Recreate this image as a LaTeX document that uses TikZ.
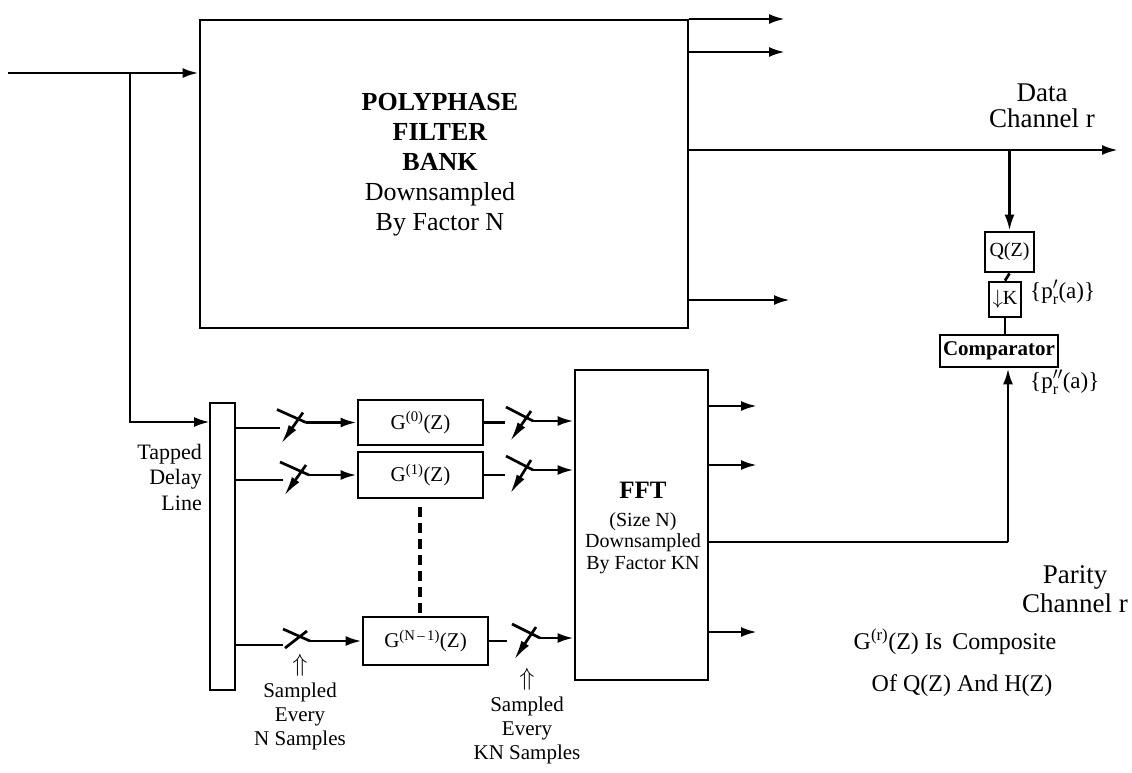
\documentclass[tikz,border=0pt]{standalone}
\usepackage{fontspec}
\setmainfont{Liberation Serif}
\usetikzlibrary{arrows.meta,calc}
\newcommand\fs[2]{\fontsize{#1}{#2}\selectfont}
\newcommand\subr{\mbox{\fontsize{16}{16}\selectfont r}}
\tikzset{
  ln/.style={line width=2.7pt},
  arr/.style={ln,-{Latex[length=16pt,width=10pt]}},
  wedge/.style={ln,-{Latex[length=20pt,width=9pt]}},
  blk/.style={draw,line width=2.8pt,inner sep=0pt},
  txt/.style={inner sep=0pt,align=center},
}
\begin{document}
\begin{tikzpicture}[x=1pt,y=-1pt]
\useasboundingbox (0,0) rectangle (1132,772);
% blocks
\node[blk,minimum width=488pt,minimum height=308pt] (poly) at (444,174) {};
\node[blk,minimum width=25pt,minimum height=287pt] (tdl) at (222.5,546.5) {};
\node[blk,minimum width=125pt,minimum height=45pt,font=\fs{21}{23}] (g0) at (420.5,422.5) {G\textsuperscript{(0)}(Z)};
\node[blk,minimum width=125pt,minimum height=46pt,font=\fs{21}{23}] (g1) at (420.5,475) {G\textsuperscript{(1)}(Z)};
\node[blk,minimum width=125pt,minimum height=48pt,font=\fs{21}{23}] (gn) at (425.5,641) {G\textsuperscript{(N\,–\,1)}(Z)};
\node[blk,minimum width=133pt,minimum height=310pt] (fft) at (641.5,525) {};
\node[blk,minimum width=49pt,minimum height=40pt,font=\fs{20}{22}] (q) at (1009.5,252) {Q(Z)};
\node[blk,minimum width=32pt,minimum height=35pt,font=\fs{20}{22}] (dk) at (1005,299.5) {$\downarrow$K};
\node[blk,minimum width=118pt,minimum height=32pt,font=\fs{21}{23}\bfseries] (comp) at (999,351) {Comparator};
% block texts
\node[txt,font=\fs{26}{30}] (polytext) at (440,165) {\textbf{POLYPHASE}\\\textbf{FILTER}\\\textbf{BANK}\\Downsampled\\By Factor N};
\node[txt,font=\fs{20}{21.5}] (ffttext) at (643,528) {{\fs{25}{27}\bfseries FFT}\\[6pt](Size N)\\Downsampled\\By Factor KN};
% input and branch
\coordinate (in) at (8,73);
\coordinate (br) at (130,73);
\coordinate (tin) at (210,422);
\draw[arr] (in) -- (in -| poly.west);
\draw[arr] (br) |- (tin);
% polyphase outputs
\coordinate (po1) at (785,19);
\coordinate (po2) at (785,52);
\coordinate (po3) at (1118,150);
\coordinate (po4) at (790,300);
\draw[arr] (poly.east |- po1) -- (po1);
\draw[arr] (poly.east |- po2) -- (po2);
\draw[arr] (poly.east |- po3) -- (po3);
\draw[arr] (poly.east |- po4) -- (po4);
% data channel tap
\draw[arr] (q.north |- po3) -- (q.north);
\draw[ln] (q.south) -- (dk.north);
\draw[ln] (dk.south) -- (dk.south |- comp.north);
% left switches
\coordinate (l0i) at (280,428); \coordinate (l0o) at (306,422.5);
\coordinate (l1i) at (283,480); \coordinate (l1o) at (309,475);
\coordinate (l2i) at (283,645); \coordinate (l2o) at (310,641);
\draw[ln] (tdl.east |- l0i) -- (l0i);
\draw[ln] (tdl.east |- l1i) -- (l1i);
\draw[ln] (tdl.east |- l2i) -- (l2i);
\draw[ln] (l0o) -- ++(-29,-13);
\draw[ln] (l1o) -- ++(-29,-13);
\draw[ln] (l2o) -- ++(-27,-12);
\draw[wedge] ($(l0o)+(-3,-10)$) -- ($(l0i)+(1,16)$);
\draw[wedge] ($(l1o)+(-3,-10)$) -- ($(l1i)+(1,16)$);
\draw[ln] ($(l2o)+(-3,-10)$) -- ($(l2i)+(2,3)$);
\draw[arr] (l0o) -- (g0.west);
\draw[arr] (l1o) -- (g1.west);
\draw[arr] (l2o) -- (gn.west);
% right switches
\coordinate (r0i) at (505,422.5); \coordinate (r0o) at (533,421);
\coordinate (r1i) at (505,475); \coordinate (r1o) at (533,470);
\coordinate (r2i) at (507,641); \coordinate (r2o) at (540,638);
\draw[ln] (g0.east) -- (r0i);
\draw[ln] (g1.east) -- (r1i);
\draw[ln] (gn.east) -- (r2i);
\draw[ln] (r0o) -- ++(-27,-14);
\draw[ln] (r1o) -- ++(-27,-14);
\draw[ln] (r2o) -- ++(-28,-14);
\draw[wedge] ($(r0o)+(-2,-10)$) -- ($(r0i)+(5,19)$);
\draw[wedge] ($(r1o)+(-2,-10)$) -- ($(r1i)+(5,19)$);
\draw[wedge] ($(r2o)+(-4,-11)$) -- ($(r2i)+(7,19)$);
\draw[arr] (r0o) -- (r0o -| fft.west);
\draw[arr] (r1o) -- (r1o -| fft.west);
\draw[arr] (r2o) -- (r2o -| fft.west);
% dashed continuation
\coordinate (d1) at (420,507);
\draw[line width=3.2pt,dash pattern=on 10pt off 6pt] (d1) -- (d1 |- gn.north);
% FFT outputs
\coordinate (fo1) at (757,406);
\coordinate (fo2) at (757,465);
\coordinate (fo3) at (757,632);
\draw[arr] (fft.east |- fo1) -- (fo1);
\draw[arr] (fft.east |- fo2) -- (fo2);
\draw[arr] (fft.east |- fo3) -- (fo3);
% parity channel
\coordinate (pc) at (1008,542);
\draw[ln] (fft.east |- pc) -- (pc);
\draw[arr] (pc) -- (pc |- comp.south);
% labels
\node[txt,font=\fs{27}{26}] (dlab) at (1042,106) {Data\\Channel r};
\node[txt,font=\fs{27}{29}] (plab) at (1075,589) {Parity\\Channel r};
\node[txt,anchor=west,font=\fs{23}{25}] (p1) at (1030,292) {\{p$'_{\subr}$(a)\}};
\node[txt,anchor=west,font=\fs{23}{25}] (p2) at (1030,382) {\{p$''_{\subr}$(a)\}};
\node[txt,anchor=east,align=right,font=\fs{22}{25.5}] (tdllab) at (202,477) {Tapped\\Delay\\Line};
\node[txt,font=\fs{21}{24}] (s1) at (300,702) {{\fs{24}{24}$\Uparrow$}\\[2pt]Sampled\\Every\\N Samples};
\node[txt,font=\fs{21}{24}] (s2) at (527,716) {{\fs{24}{24}$\Uparrow$}\\[2pt]Sampled\\Every\\KN Samples};
\node[txt,font=\fs{24}{26}] (c1) at (955,642) {G\textsuperscript{(r)}(Z) Is\, Composite};
\node[txt,font=\fs{24}{26}] (c2) at (962,686) {Of Q(Z) And H(Z)};
\end{tikzpicture}
\end{document}
